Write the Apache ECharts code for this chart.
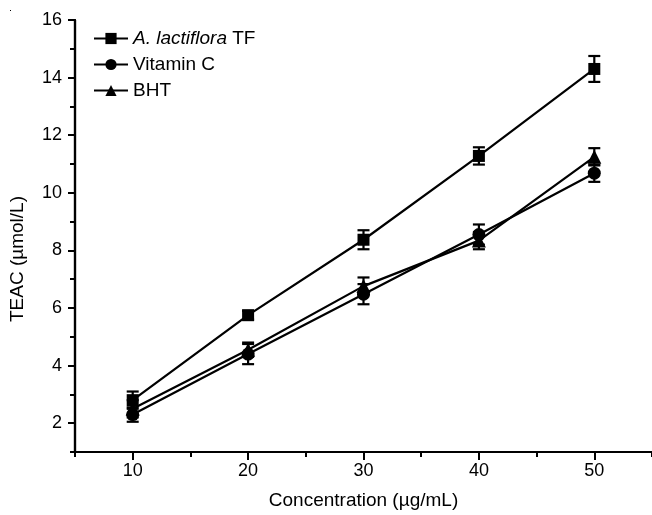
<!DOCTYPE html>
<html>
<head>
<meta charset="utf-8">
<script src="https://cdn.jsdelivr.net/npm/echarts@6/dist/echarts.min.js"></script>
<style>html,body{margin:0;padding:0;background:#fff}#c{width:652px;height:515px}</style>
</head>
<body>
<div id="c"></div>
<script>
const concentrations = [10, 20, 30, 40, 50];
const tfValues = [2.8, 5.75, 8.37, 11.28, 14.3];
const tfErr = [0.3, 0.15, 0.33, 0.3, 0.45];
const vitcValues = [2.3, 4.4, 6.48, 8.55, 10.68];
const vitcErr = [0.25, 0.35, 0.35, 0.35, 0.3];
const bhtValues = [2.5, 4.55, 6.76, 8.34, 11.25];
const bhtErr = [0.3, 0.25, 0.3, 0.3, 0.3];
const xMajorTicks = [10, 20, 30, 40, 50];
const xMinorTicks = [5, 15, 25, 35, 45, 55];
const yMajorTicks = [2, 4, 6, 8, 10, 12, 14, 16];
const yMinorTicks = [1, 3, 5, 7, 9, 11, 13, 15];
const seriesNames = ['A. lactiflora TF', 'Vitamin C', 'BHT'];

const FONT = "'Liberation Sans', Arial, Helvetica, sans-serif";
const chart = echarts.init(document.getElementById('c'));

function pairs(vals) { return concentrations.map((x, i) => [x, vals[i]]); }
function errData(vals, errs) { return concentrations.map((x, i) => [x, vals[i] - errs[i], vals[i] + errs[i]]); }

function errRender(params, api) {
  const x = api.value(0), lo = api.value(1), hi = api.value(2);
  const p1 = api.coord([x, hi]), p2 = api.coord([x, lo]);
  const w = 6;
  const st = { stroke: '#000', lineWidth: 2.2 };
  return { type: 'group', children: [
    { type: 'line', shape: { x1: p1[0], y1: p1[1], x2: p2[0], y2: p2[1] }, style: st },
    { type: 'line', shape: { x1: p1[0] - w, y1: p1[1], x2: p1[0] + w, y2: p1[1] }, style: st },
    { type: 'line', shape: { x1: p2[0] - w, y1: p2[1], x2: p2[0] + w, y2: p2[1] }, style: st }
  ]};
}

const axisLine = { show: true, onZero: false, lineStyle: { color: '#000', width: 2.2 } };

function lineSeries(name, vals, symbol, size) {
  return {
    name: name, type: 'line', data: pairs(vals), symbol: symbol, symbolSize: size,
    xAxisIndex: 0, yAxisIndex: 0,
    itemStyle: { color: '#000' }, lineStyle: { color: '#000', width: 2.2 }, z: 3
  };
}
function errSeries(vals, errs) {
  return { type: 'custom', renderItem: errRender, data: errData(vals, errs),
    xAxisIndex: 0, yAxisIndex: 0, encode: { x: 0, y: [1, 2] }, z: 2, silent: true };
}

chart.setOption({
  animation: false,
  backgroundColor: '#fff',
  grid: { left: 75, top: 20, width: 578, height: 432 },
  legend: {
    data: seriesNames, orient: 'vertical', left: 93, top: 29,
    itemWidth: 34, itemHeight: 14, itemGap: 7, padding: 0,
    textStyle: { fontSize: 19, fontFamily: FONT, color: '#000',
      rich: { i: { fontStyle: 'italic', fontSize: 19, fontFamily: FONT, color: '#000' } } },
    formatter: function (n) { return n === 'A. lactiflora TF' ? '{i|A. lactiflora} TF' : n; }
  },
  xAxis: [
    { type: 'value', min: 5, max: 55, interval: 5, axisLine: axisLine, splitLine: { show: false },
      axisTick: { show: true, customValues: xMajorTicks, length: 8, lineStyle: { color: '#000', width: 2 } },
      axisLabel: { customValues: xMajorTicks, fontSize: 18, fontFamily: FONT, color: '#000', margin: 10 },
      name: 'Concentration (µg/mL)', nameLocation: 'middle', nameGap: 39,
      nameTextStyle: { fontSize: 19, fontFamily: FONT, color: '#000' } },
    { type: 'value', min: 5, max: 55, interval: 5, position: 'bottom', axisLine: axisLine, splitLine: { show: false },
      axisTick: { show: true, customValues: xMinorTicks, length: 5, lineStyle: { color: '#000', width: 2 } },
      axisLabel: { show: false } }
  ],
  yAxis: [
    { type: 'value', min: 1, max: 16, interval: 1, axisLine: axisLine, splitLine: { show: false },
      axisTick: { show: true, customValues: yMajorTicks, length: 7, lineStyle: { color: '#000', width: 2 } },
      axisLabel: { customValues: yMajorTicks, fontSize: 18, fontFamily: FONT, color: '#000', margin: 13 } },
    { type: 'value', min: 1, max: 16, interval: 1, position: 'left', axisLine: axisLine, splitLine: { show: false },
      axisTick: { show: true, customValues: yMinorTicks, length: 5, lineStyle: { color: '#000', width: 2 } },
      axisLabel: { show: false } }
  ],
  graphic: [
    { type: 'text', x: 18, y: 259, rotation: Math.PI / 2,
      style: { text: 'TEAC (µmol/L)', fontSize: 19, fontFamily: FONT, fill: '#000', align: 'center', verticalAlign: 'middle' } },
    { type: 'rect', shape: { x: 10, y: 10, width: 1, height: 1 }, style: { fill: '#000' } }
  ],
  series: [
    errSeries(tfValues, tfErr),
    errSeries(vitcValues, vitcErr),
    errSeries(bhtValues, bhtErr),
    lineSeries(seriesNames[0], tfValues, 'rect', 12),
    lineSeries(seriesNames[1], vitcValues, 'circle', 13),
    lineSeries(seriesNames[2], bhtValues, 'triangle', 14)
  ]
});
</script>
</body>
</html>
